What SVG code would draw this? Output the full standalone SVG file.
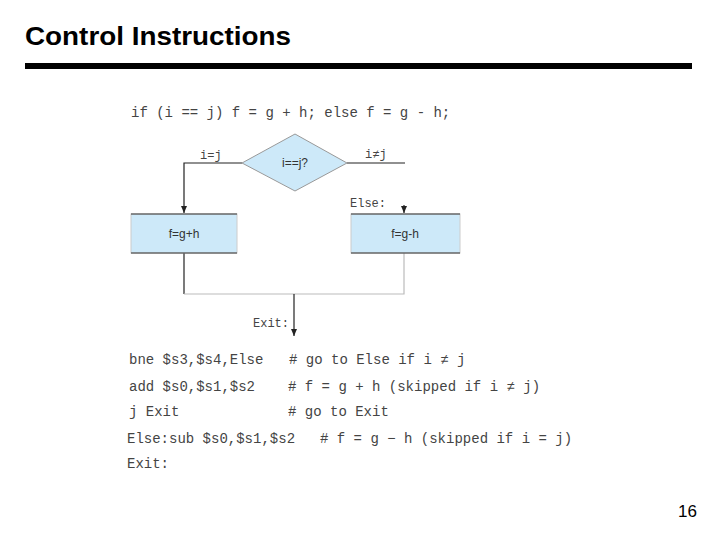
<svg xmlns="http://www.w3.org/2000/svg" width="720" height="540" viewBox="0 0 720 540">
<style>
.title{font-family:"Liberation Sans",Arial,sans-serif;font-weight:bold;font-size:26px;fill:#000}
.code{font-family:"Liberation Mono","DejaVu Sans Mono",monospace;font-size:14px;fill:#444}
.lbl{font-family:"Liberation Mono","DejaVu Sans Mono",monospace;font-size:12px;fill:#444}
.ntx{font-family:"Liberation Sans",Arial,sans-serif;font-size:12px;fill:#333;text-anchor:middle}
.node{fill:#cde9f9;stroke:#999;stroke-width:1}
.bord{stroke:#333;stroke-width:1.2}
.edge{fill:none;stroke:#222;stroke-width:1.2}
.edgel{fill:none;stroke:#bbb;stroke-width:1.2}
</style>
<defs>
<marker id="ah" markerWidth="8" markerHeight="8" refX="7" refY="4" orient="auto" markerUnits="userSpaceOnUse">
<path d="M0,1 L7,4 L0,7 Z" fill="#222"/>
</marker>
</defs>
<rect width="720" height="540" fill="#fff"/>
<text class="title" x="25" y="45" textLength="266" lengthAdjust="spacingAndGlyphs">Control Instructions</text>
<rect x="25" y="63" width="667" height="6" fill="#000"/>
<text class="code" x="131" y="117">if (i == j) f = g + h; else f = g - h;</text>

<g id="edges">
<polyline class="edge" points="242,163 184,163 184,213" marker-end="url(#ah)"/>
<line class="edge" x1="347" y1="163" x2="405" y2="163"/>
<line class="edge" x1="404" y1="205" x2="404" y2="213" marker-end="url(#ah)"/>
<line class="edge" x1="184" y1="253" x2="184" y2="294"/>
<polyline class="edgel" points="184,294 404,294 404,253"/>
<line class="edge" x1="294" y1="294" x2="294" y2="336" marker-end="url(#ah)"/>
<text class="lbl" x="200" y="159">i=j</text>
<text class="lbl" x="365" y="158">i≠j</text>
<text class="lbl" x="350" y="207">Else:</text>
<text class="lbl" x="253" y="327">Exit:</text>
</g>

<g id="cond">
<polygon class="node" points="242,163 295,134 347,163 295,191"/>
<text class="ntx" x="295" y="167">i==j?</text>
</g>
<g id="then">
<rect x="131" y="214" width="106" height="39" fill="#cde9f9" stroke="#ccc" stroke-width="1"/>
<line class="bord" x1="131" y1="214" x2="237" y2="214"/>
<line class="bord" x1="131" y1="253" x2="237" y2="253"/>
<text class="ntx" x="184" y="238">f=g+h</text>
</g>
<g id="else">
<rect x="351" y="214" width="109" height="39" fill="#cde9f9" stroke="#ccc" stroke-width="1"/>
<line class="bord" x1="351" y1="214" x2="460" y2="214"/>
<line class="bord" x1="351" y1="253" x2="460" y2="253"/>
<text class="ntx" x="405" y="238">f=g-h</text>
</g>

<text class="code" x="129" y="364">bne $s3,$s4,Else</text>
<text class="code" x="289" y="364"># go to Else if i ≠ j</text>
<text class="code" x="129" y="391">add $s0,$s1,$s2</text>
<text class="code" x="288" y="391"># f = g + h (skipped if i ≠ j)</text>
<text class="code" x="129" y="416">j Exit</text>
<text class="code" x="288" y="416"># go to Exit</text>
<text class="code" x="127" y="443">Else:sub $s0,$s1,$s2</text>
<text class="code" x="320" y="443"># f = g − h (skipped if i = j)</text>
<text class="code" x="127" y="468">Exit:</text>

<text x="697" y="517" font-family="Liberation Sans,Arial,sans-serif" font-size="17" text-anchor="end" fill="#000">16</text>
</svg>
